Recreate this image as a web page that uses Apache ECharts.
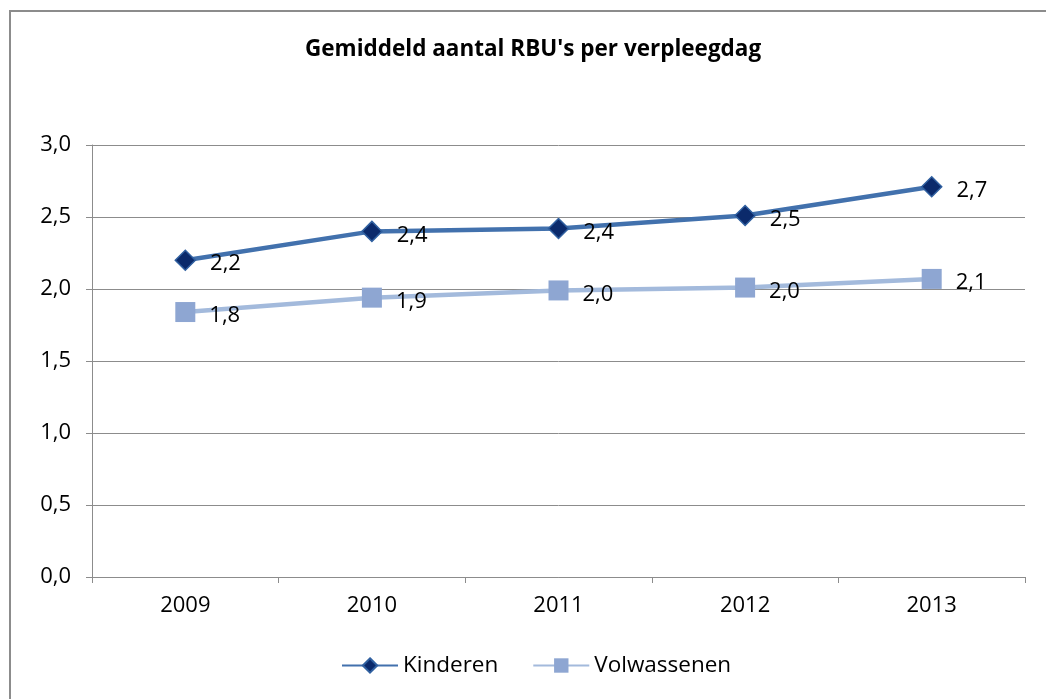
<!DOCTYPE html>
<html>
<head>
<meta charset="utf-8">
<script src="https://cdn.jsdelivr.net/npm/echarts@6/dist/echarts.min.js"></script>
<style>
  html, body { margin: 0; padding: 0; background: #fff; }
  #chart { width: 1046px; height: 699px; }
</style>
</head>
<body>
<div id="chart"></div>
<script>
  // jaren en gemiddelden per verpleegdag
  const years = ['2009', '2010', '2011', '2012', '2013']
  const kinderen = [2.2, 2.4, 2.42, 2.51, 2.71]
  const volwassenen = [1.84, 1.94, 1.99, 2.01, 2.07]

  const fontFamily = '"Open Sans", "Noto Sans", sans-serif'
  const fmt = (p) => p.value.toFixed(1).replace('.', ',')

  const chart = echarts.init(document.getElementById('chart'))
  chart.setOption({
    animation: false,
    textStyle: { fontFamily: fontFamily },
    graphic: [
      {
        type: 'rect',
        shape: { x: 10, y: 11, width: 1100, height: 800 },
        style: { fill: 'none', stroke: '#8c8c8c', lineWidth: 2 },
      },
    ],
    title: {
      text: "Gemiddeld aantal RBU's per verpleegdag",
      left: 300,
      top: 33,
      textStyle: { fontSize: 22.5, fontWeight: 'bold', color: '#000', fontFamily: fontFamily },
    },
    legend: {
      bottom: 17,
      left: 336,
      itemWidth: 56,
      itemHeight: 18,
      itemGap: 34,
      textStyle: { fontSize: 22.5, color: '#000', fontFamily: fontFamily },
      data: ['Kinderen', 'Volwassenen'],
    },
    grid: { left: 92, right: 21, top: 145, bottom: 122 },
    xAxis: {
      type: 'category',
      data: years,
      boundaryGap: true,
      axisLine: { lineStyle: { color: '#8c8c8c', width: 1 } },
      axisTick: { show: true, length: 6, lineStyle: { color: '#8c8c8c' } },
      axisLabel: { fontSize: 22, color: '#000', margin: 18 },
    },
    yAxis: {
      type: 'value',
      min: 0,
      max: 3,
      interval: 0.5,
      axisLine: { show: true, lineStyle: { color: '#8c8c8c', width: 1 } },
      axisTick: { show: true, length: 6, lineStyle: { color: '#8c8c8c' } },
      axisLabel: {
        fontSize: 22,
        color: '#000',
        margin: 21,
        formatter: (v) => v.toFixed(1).replace('.', ','),
      },
      splitLine: { lineStyle: { color: '#8c8c8c', width: 1 } },
    },
    series: [
      {
        name: 'Kinderen',
        type: 'line',
        data: kinderen,
        symbol: 'diamond',
        symbolSize: 20,
        lineStyle: { color: '#4271ad', width: 4.5 },
        itemStyle: { color: '#0b2a6b', borderColor: '#3060a0', borderWidth: 1.5 },
        label: {
          show: true,
          position: 'right',
          distance: 14,
          offset: [0, 4],
          fontSize: 22,
          color: '#000',
          formatter: fmt,
        },
      },
      {
        name: 'Volwassenen',
        type: 'line',
        data: volwassenen,
        symbol: 'rect',
        symbolSize: 20,
        lineStyle: { color: '#a3badc', width: 4.5 },
        itemStyle: { color: '#8ea6d2', borderColor: '#8ea6d2', borderWidth: 0 },
        label: {
          show: true,
          position: 'right',
          distance: 14,
          offset: [0, 4],
          fontSize: 22,
          color: '#000',
          formatter: fmt,
        },
      },
    ],
  })
</script>
</body>
</html>
